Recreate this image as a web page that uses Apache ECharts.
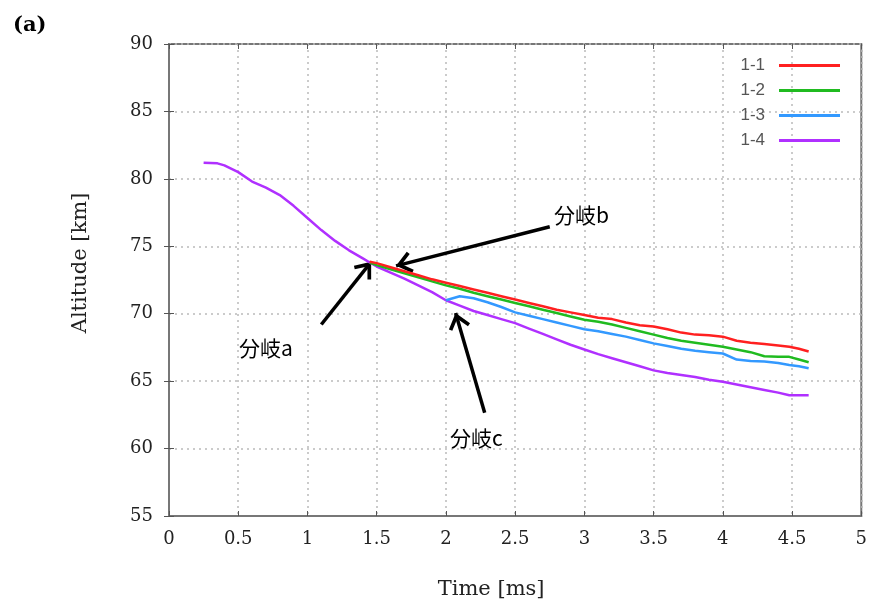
<!DOCTYPE html>
<html>
<head>
<meta charset="utf-8">
<script src="https://cdn.jsdelivr.net/npm/echarts@6/dist/echarts.min.js"></script>
<style>
  html, body { margin: 0; padding: 0; background: #fff; }
  #chart { width: 870px; height: 605px; }
</style>
</head>
<body>
<div id="chart"></div>
<script>
// data
const seriesNames = ['1-1', '1-2', '1-3', '1-4'];

const time11 = [1.45, 1.5, 1.6, 1.7, 1.8, 1.9, 2.0, 2.1, 2.2, 2.3, 2.4, 2.5, 2.6, 2.7, 2.8, 2.9, 3.0, 3.1, 3.2, 3.3, 3.4, 3.5, 3.6, 3.7, 3.8, 3.9, 4.0, 4.1, 4.2, 4.3, 4.4, 4.48, 4.55, 4.62];
const alt11 = [73.85, 73.75, 73.45, 73.15, 72.85, 72.55, 72.3, 72.05, 71.8, 71.55, 71.3, 71.05, 70.8, 70.55, 70.3, 70.1, 69.9, 69.7, 69.6, 69.35, 69.15, 69.05, 68.85, 68.6, 68.45, 68.4, 68.3, 68.0, 67.85, 67.75, 67.65, 67.55, 67.4, 67.2];

const time12 = [1.45, 1.5, 1.6, 1.7, 1.8, 1.9, 2.0, 2.1, 2.2, 2.3, 2.4, 2.5, 2.6, 2.7, 2.8, 2.9, 3.0, 3.1, 3.2, 3.3, 3.4, 3.5, 3.6, 3.7, 3.8, 3.9, 4.0, 4.1, 4.2, 4.3, 4.4, 4.48, 4.55, 4.62];
const alt12 = [73.8, 73.6, 73.3, 73.0, 72.7, 72.4, 72.1, 71.85, 71.55, 71.3, 71.05, 70.8, 70.55, 70.3, 70.05, 69.8, 69.55, 69.4, 69.2, 68.95, 68.7, 68.45, 68.2, 68.0, 67.85, 67.7, 67.55, 67.35, 67.15, 66.85, 66.8, 66.8, 66.6, 66.4];

const time13 = [2.0, 2.05, 2.1, 2.2, 2.3, 2.4, 2.5, 2.6, 2.7, 2.8, 2.9, 3.0, 3.1, 3.2, 3.3, 3.4, 3.5, 3.6, 3.7, 3.8, 3.9, 4.0, 4.1, 4.2, 4.3, 4.4, 4.48, 4.55, 4.62];
const alt13 = [71.0, 71.15, 71.3, 71.15, 70.85, 70.5, 70.1, 69.85, 69.6, 69.35, 69.1, 68.85, 68.7, 68.5, 68.3, 68.05, 67.8, 67.6, 67.4, 67.25, 67.15, 67.05, 66.6, 66.5, 66.45, 66.35, 66.2, 66.1, 65.95];

const time14 = [0.25, 0.35, 0.4, 0.5, 0.6, 0.7, 0.8, 0.9, 1.0, 1.1, 1.2, 1.3, 1.4, 1.45, 1.5, 1.6, 1.7, 1.8, 1.9, 2.0, 2.1, 2.2, 2.3, 2.4, 2.5, 2.6, 2.7, 2.8, 2.9, 3.0, 3.1, 3.2, 3.3, 3.4, 3.5, 3.6, 3.7, 3.8, 3.9, 4.0, 4.1, 4.2, 4.3, 4.4, 4.48, 4.62];
const alt14 = [81.2, 81.15, 81.0, 80.5, 79.8, 79.35, 78.8, 78.0, 77.1, 76.2, 75.4, 74.7, 74.1, 73.8, 73.5, 73.05, 72.6, 72.1, 71.6, 71.0, 70.6, 70.2, 69.9, 69.6, 69.3, 68.9, 68.5, 68.1, 67.7, 67.35, 67.0, 66.7, 66.4, 66.1, 65.8, 65.6, 65.45, 65.3, 65.1, 64.95, 64.75, 64.55, 64.35, 64.15, 63.95, 63.95];

// annotation arrows (data coords): from -> to
const arrowFrom = [[1.10, 69.2], [2.75, 76.45], [2.28, 62.65]];
const arrowTo = [[1.46, 73.85], [1.64, 73.55], [2.07, 70.05]];
const noteNames = ['分岐a', '分岐b', '分岐c'];
const notePos = [[0.70, 67.45], [2.98, 77.3], [2.22, 60.8]];

const colors = ['#ff2020', '#20bb20', '#3399ff', '#b030ff'];

const toPairs = (t, a) => t.map((v, i) => [v, a[i]]);
const allData = [
  toPairs(time11, alt11),
  toPairs(time12, alt12),
  toPairs(time13, alt13),
  toPairs(time14, alt14)
];

const serif = '"DejaVu Serif", "Liberation Serif", serif';
// open arrow head, tip sits at the centre of the symbol box
const chevron = 'path://M50,0 L50.2,0 Z M50,80 L100,145 L87,156 L50,108 L13,156 L0,145 Z M50,160 L50.2,160 Z';

const chart = echarts.init(document.getElementById('chart'));

const series = seriesNames.map((name, i) => ({
  name: name,
  type: 'line',
  data: allData[i],
  showSymbol: false,
  symbol: 'none',
  z: 10 - i,
  lineStyle: { color: colors[i], width: 2.5 },
  itemStyle: { color: colors[i] }
}));

// arrows and labels on a dummy series
series.push({
  name: 'notes',
  type: 'line',
  data: [],
  silent: true,
  z: 20,
  markLine: {
    silent: true,
    symbol: ['none', chevron],
    symbolSize: [22, 34],
    label: { show: false },
    lineStyle: { color: '#000', width: 3.5, type: 'solid' },
    data: arrowFrom.map((f, i) => [{ coord: f }, { coord: arrowTo[i] }])
  },
  markPoint: {
    silent: true,
    symbol: 'circle',
    symbolSize: 1,
    itemStyle: { color: 'rgba(0,0,0,0)' },
    label: {
      show: true,
      position: 'inside',
      formatter: '{b}',
      color: '#000',
      fontSize: 21,
      fontFamily: '"Noto Sans CJK JP", sans-serif'
    },
    data: notePos.map((p, i) => ({ name: noteNames[i], coord: p }))
  }
});

chart.setOption({
  animation: false,
  backgroundColor: '#fff',
  title: {
    text: '(a)',
    left: 8,
    top: 10,
    textStyle: { fontFamily: serif, fontSize: 21, fontWeight: 'bold', color: '#000' }
  },
  legend: {
    data: seriesNames,
    orient: 'vertical',
    align: 'right',
    right: 25,
    top: 52,
    itemGap: 8,
    itemWidth: 61,
    itemHeight: 3,
    icon: 'rect',
    textStyle: {
      color: '#555',
      fontSize: 17,
      lineHeight: 17,
      padding: [0, 9, 0, 0],
      fontFamily: '"Liberation Sans", Arial, sans-serif'
    }
  },
  grid: {
    left: 169,
    right: 4,
    top: 44,
    bottom: 89,
    show: true,
    borderColor: '#777',
    borderWidth: 2
  },
  xAxis: [{
    type: 'value',
    min: 0,
    max: 5,
    interval: 0.5,
    name: 'Time [ms]',
    nameLocation: 'middle',
    nameGap: 63,
    nameTextStyle: { fontFamily: serif, fontSize: 21, color: '#222', padding: [0, 48, 0, 0] },
    axisLine: { show: true, lineStyle: { color: '#777', width: 2 } },
    axisTick: { show: true, inside: true, length: 5, lineStyle: { color: '#555' } },
    axisLabel: { fontFamily: serif, fontSize: 18, color: '#222', margin: 14 },
    splitLine: { show: true, lineStyle: { color: '#bbb', type: [2, 4], width: 1.5 } }
  }, {
    type: 'value',
    position: 'top',
    min: 0,
    max: 5,
    interval: 0.5,
    axisLine: { show: false },
    axisTick: { show: true, inside: true, length: 5, lineStyle: { color: '#555' } },
    axisLabel: { show: false },
    splitLine: { show: false }
  }],
  yAxis: [{
    type: 'value',
    min: 55,
    max: 90,
    interval: 5,
    name: 'Altitude [km]',
    nameLocation: 'middle',
    nameGap: 78,
    nameRotate: 90,
    nameTextStyle: { fontFamily: serif, fontSize: 21, color: '#222', padding: [0, 0, 0, 34] },
    axisLine: { show: true, lineStyle: { color: '#777', width: 2 } },
    axisTick: { show: true, inside: true, length: 5, lineStyle: { color: '#555' } },
    axisLabel: { fontFamily: serif, fontSize: 18, color: '#222', margin: 16 },
    splitLine: { show: true, lineStyle: { color: '#bbb', type: [2, 4], width: 1.5 } }
  }, {
    type: 'value',
    position: 'right',
    min: 55,
    max: 90,
    interval: 5,
    axisLine: { show: false },
    axisTick: { show: true, inside: true, length: 5, lineStyle: { color: '#555' } },
    axisLabel: { show: false },
    splitLine: { show: false }
  }],
  series: series
});
</script>
</body>
</html>
